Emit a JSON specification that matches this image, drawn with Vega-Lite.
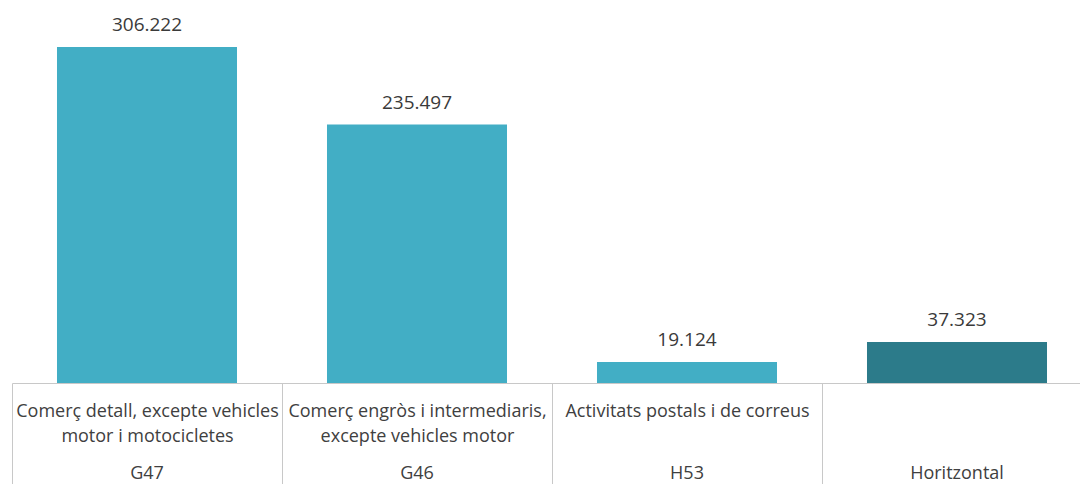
{
  "$schema": "https://vega.github.io/schema/vega-lite/v6.json",
  "width": 1068,
  "height": 383,
  "autosize": {"type": "none"},
  "padding": {"left": 12, "top": 0, "right": 0, "bottom": 101},
  "config": {
    "view": {"stroke": null},
    "font": "Open Sans",
    "locale": {"number": {"decimal": ",", "thousands": ".", "grouping": [3], "currency": ["", " €"]}}
  },
  "data": {
    "values": [
      {"etiqueta": "Comerç detall, excepte vehicles|motor i motocicletes|G47", "tipus": "sector", "valor": 306222},
      {"etiqueta": "Comerç engròs i intermediaris,|excepte vehicles motor|G46", "tipus": "sector", "valor": 235497},
      {"etiqueta": "Activitats postals i de correus||H53", "tipus": "sector", "valor": 19124},
      {"etiqueta": "||Horitzontal", "tipus": "horitzontal", "valor": 37323}
    ]
  },
  "resolve": {"axis": {"x": "independent"}},
  "layer": [
    {
      "mark": {"type": "bar", "width": {"band": 0.6667}},
      "encoding": {
        "x": {
          "field": "etiqueta",
          "type": "nominal",
          "sort": null,
          "scale": {"range": [0, 1080], "paddingInner": 0, "paddingOuter": 0},
          "axis": {
            "orient": "bottom",
            "title": null,
            "labelAngle": 0,
            "labelExpr": "slice(split(datum.label, '|'), 0, 2)",
            "labelLineHeight": 25,
            "labelFontSize": 18,
            "labelColor": "#404040",
            "labelBaseline": "top",
            "labelLimit": 0,
            "labelOverlap": false,
            "labelBound": false,
            "labelFlush": false,
            "labelPadding": -91,
            "tickBand": "extent",
            "tickSize": 110,
            "tickColor": "#c8c8c8",
            "domainColor": "#c8c8c8",
            "grid": false
          }
        },
        "y": {
          "field": "valor",
          "type": "quantitative",
          "scale": {"domain": [0, 349000], "nice": false},
          "axis": null
        },
        "color": {
          "field": "tipus",
          "type": "nominal",
          "scale": {"domain": ["sector", "horitzontal"], "range": ["#42AEC5", "#2C7B8A"]},
          "legend": null
        }
      }
    },
    {
      "mark": {"type": "text", "baseline": "middle", "align": "center", "dy": -22, "fontSize": 19, "color": "#3a3a3a"},
      "encoding": {
        "x": {
          "field": "etiqueta",
          "type": "nominal",
          "sort": null,
          "axis": {
            "orient": "bottom",
            "title": null,
            "labelAngle": 0,
            "labelExpr": "peek(split(datum.label, '|'))",
            "labelFontSize": 18,
            "labelColor": "#404040",
            "labelBaseline": "top",
            "labelLimit": 0,
            "labelOverlap": false,
            "labelBound": false,
            "labelFlush": false,
            "labelPadding": 81,
            "ticks": false,
            "domain": false,
            "grid": false
          }
        },
        "y": {"field": "valor", "type": "quantitative"},
        "text": {"field": "valor", "type": "quantitative", "format": ",d"}
      }
    }
  ]
}
